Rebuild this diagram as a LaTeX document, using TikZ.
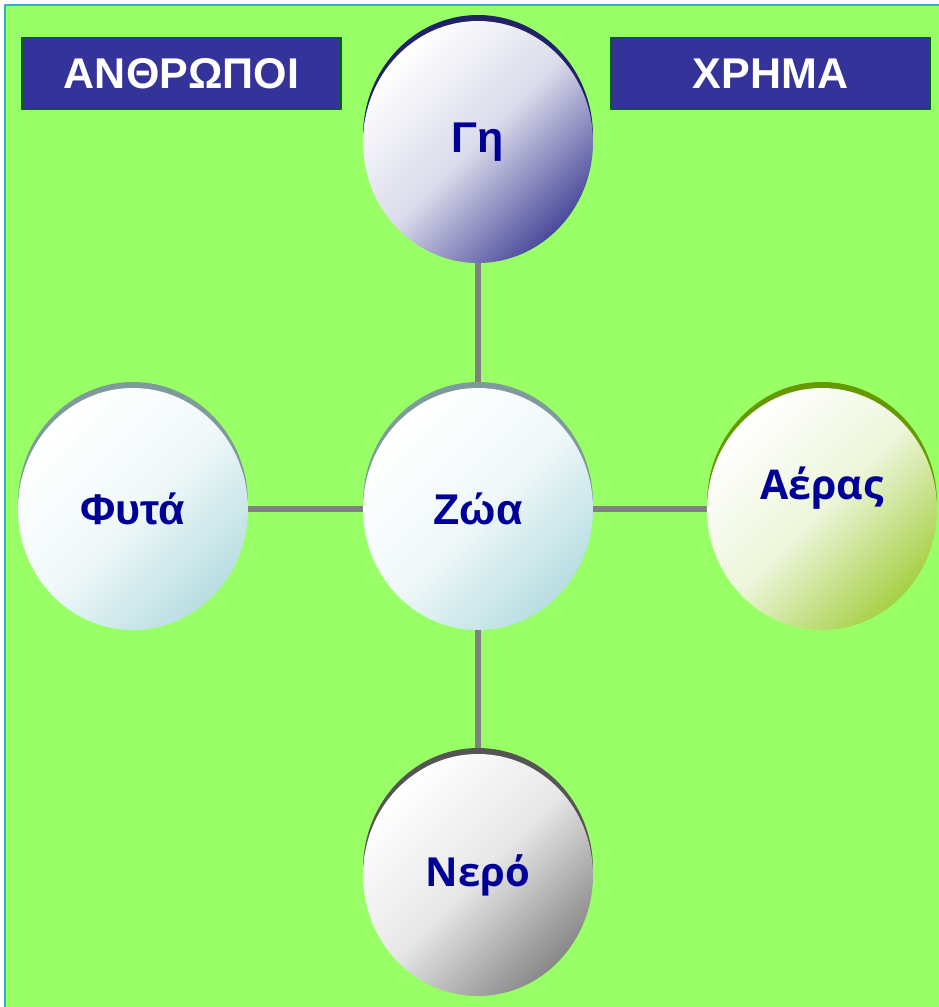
\documentclass[tikz,border=0pt]{standalone}
\usepackage{fontspec}
\usetikzlibrary{shapes.geometric}
\setmainfont{Liberation Sans}
\newfontfamily\softfont{Open Sans}
\definecolor{bggreen}{HTML}{99FF66}
\definecolor{frameteal}{HTML}{33AFC0}
\definecolor{boxblue}{HTML}{333399}
\definecolor{boxedge}{HTML}{006600}
\definecolor{txtblue}{HTML}{000099}
\definecolor{linkgray}{HTML}{808080}
\definecolor{geshade}{HTML}{4A4A9C}
\definecolor{gerim}{HTML}{222266}
\definecolor{zoashade}{HTML}{B8DEE2}
\definecolor{zoarim}{HTML}{7F9A9A}
\definecolor{aershade}{HTML}{A6D046}
\definecolor{aerrim}{HTML}{669900}
\definecolor{nershade}{HTML}{888888}
\definecolor{nerrim}{HTML}{555555}
\begin{document}
\begin{tikzpicture}[x=1pt,y=-1pt,line join=round,font=\bfseries\fontsize{43}{46}\selectfont,
		titlebox/.style={draw=boxedge,line width=1.5pt,fill=boxblue,text=white,minimum width=319pt,minimum height=72pt,inner sep=0pt},
		ball/.style={ellipse,minimum width=230pt,minimum height=242pt,inner sep=0pt,text=txtblue,top color=white,bottom color=#1,middle color=white!80!#1,shading angle=45},
		rim/.style={ellipse,minimum width=230pt,minimum height=242pt,inner sep=0pt,fill=#1},
		link/.style={draw=linkgray,line width=5.5pt}]
	\useasboundingbox (0,0) rectangle (938,1007);
	\fill[bggreen] (5,5) rectangle (950,1020);
	\draw[frameteal,line width=2pt] (5,1020)--(5,5)--(950,5);
	\node[titlebox] (anthr) at (181.5,73.5) {ΑΝΘΡΩΠΟΙ};
	\node[titlebox] (chrima) at (770.5,73.5) {ΧΡΗΜΑ};
	% rims behind the balls
	\node[rim=gerim] at (478,136) {};
	\node[rim=zoarim] at (133,503) {};
	\node[rim=zoarim] at (478,503) {};
	\node[rim=aerrim] at (822,503) {};
	\node[rim=nerrim] at (478,869) {};
	\node[ball=geshade] (ge) at (478,142) {\raisebox{-4pt}{Γη}};
	\node[ball=zoashade] (fyta) at (133,509) {Φυτά};
	\node[ball=zoashade] (zoa) at (478,509) {Ζώα};
	\node[ball=aershade] (aeras) at (822,509) {};
	\node[text=txtblue,font=\softfont\bfseries\fontsize{41}{44}\selectfont] (aertxt) at ([yshift=21pt]aeras.center) {Αέρας};
	\node[ball=nershade,font=\softfont\bfseries\fontsize{40}{44}\selectfont] (nero) at (478,875) {Νερό};
	\draw[link] (ge.south)--([yshift=6pt]zoa.north) (zoa.south)--([yshift=6pt]nero.north);
	\draw[link] (fyta.east)--(zoa.west) (zoa.east)--(aeras.west);
\end{tikzpicture}
\end{document}
